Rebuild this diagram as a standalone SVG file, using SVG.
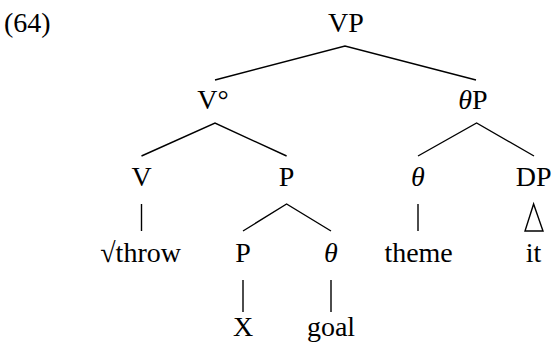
<svg xmlns="http://www.w3.org/2000/svg" width="554" height="343" viewBox="0 0 554 343">
<rect width="554" height="343" fill="#fff"/>
<g id="labels">
<g id="label-64"><text x="4" y="32" font-family="Liberation Serif" font-size="28">(64)</text></g>
<g id="node-VP"><text x="346" y="32" font-family="Liberation Serif" font-size="28" text-anchor="middle">VP</text></g>
<g id="node-V0"><text x="213" y="109" font-family="Liberation Serif" font-size="28" text-anchor="middle">V°</text></g>
<g id="node-thetaP"><text x="473" y="109" font-family="Liberation Serif" font-size="28" text-anchor="middle"><tspan font-style="italic">θ</tspan>P</text></g>
<g id="node-V"><text x="141.5" y="186" font-family="Liberation Serif" font-size="28" text-anchor="middle">V</text></g>
<g id="node-P1"><text x="286.6" y="186" font-family="Liberation Serif" font-size="28" text-anchor="middle">P</text></g>
<g id="node-theta1"><text x="418" y="186" font-family="Liberation Serif" font-size="28" text-anchor="middle" font-style="italic">θ</text></g>
<g id="node-DP"><text x="533.6" y="186" font-family="Liberation Serif" font-size="28" text-anchor="middle">DP</text></g>
<g id="node-throw"><text x="140.6" y="262" font-family="Liberation Serif" font-size="28" text-anchor="middle">√throw</text></g>
<g id="node-P2"><text x="243" y="262" font-family="Liberation Serif" font-size="28" text-anchor="middle">P</text></g>
<g id="node-theta2"><text x="331" y="262" font-family="Liberation Serif" font-size="28" text-anchor="middle" font-style="italic">θ</text></g>
<g id="node-theme"><text x="418.6" y="262" font-family="Liberation Serif" font-size="28" text-anchor="middle">theme</text></g>
<g id="node-it"><text x="533.6" y="262" font-family="Liberation Serif" font-size="28" text-anchor="middle">it</text></g>
<g id="node-X"><text x="243" y="336" font-family="Liberation Serif" font-size="28" text-anchor="middle">X</text></g>
<g id="node-goal"><text x="331" y="336" font-family="Liberation Serif" font-size="28" text-anchor="middle">goal</text></g>
</g>
<g id="connectors" stroke="#000" stroke-width="1.4" fill="none">
  <path d="M215,80 L345,46 L476,80"/>
  <path d="M141.5,156 L215,123 L286.6,156"/>
  <path d="M418,156 L476.6,123 L534,156"/>
  <path d="M141.5,204 L141.5,231"/>
  <path d="M418,204 L418,231"/>
  <path d="M243,231 L286.6,204 L331,231"/>
  <path d="M533.6,204 L525,231 L543,231 Z"/>
  <path d="M243,280 L243,312"/>
  <path d="M331,280 L331,312"/>
</g>
</svg>
